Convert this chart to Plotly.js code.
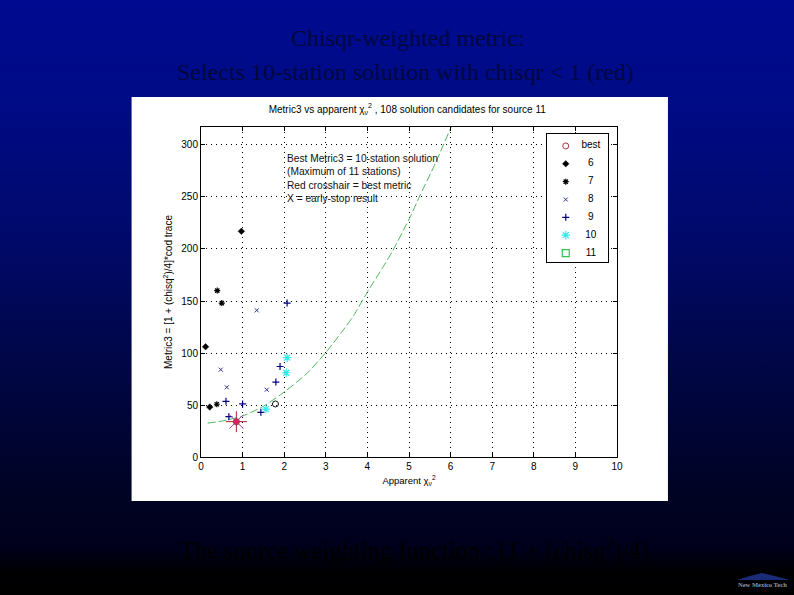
<!DOCTYPE html>
<html><head><meta charset="utf-8">
<script src="https://cdn.plot.ly/plotly-3.0.0.min.js"></script>
<style>
html,body{margin:0;padding:0;width:794px;height:595px;overflow:hidden;background:linear-gradient(180deg,#000a90 0%,#000b86 17%,#00096a 40%,#000644 62%,#000322 84%,#00001c 92%,#000003 96%,#000 100%);}
#chart{position:absolute;left:0;top:0;width:794px;height:595px;}
</style></head><body><div id="chart"></div>
<script>
var six_x=[0.97,0.11,0.21];
var six_y=[217,106,48];
var seven_x=[0.39,0.5,0.38];
var seven_y=[160,148,50.7];
var eight_x=[1.34,0.475,0.62,1.58];
var eight_y=[141,84,67,64.7];
var nine_x=[2.07,1.9,1.8,0.6,1.0,1.44,0.67];
var nine_y=[148,87,72,53.5,51,43,38.8];
var ten_x=[2.07,2.05,1.56,0.85];
var ten_y=[95.5,81,46,34];
var best_x=[0.85];
var best_y=[34];
var early_x=[1.79];
var early_y=[51];
var curve_x=[0.16,0.51,1.0,1.51,2.01,2.55,3.01,3.39,3.67,3.99,4.35,4.59,5.03,5.27,5.63,6.0,6.05];
var curve_y=[32.6,34.6,39.4,49,62.8,80.5,101,120.5,136,158,181,197,231,252,282,316,320];
var legend_names=["best","6","7","8","9","10","11"];
var legend_symbols=["circle-open","diamond","asterisk-open","x-thin-open","cross-thin-open","asterisk-open","square-open"];
var legend_sizes=[6,5,5,4,5,7,7];
var legend_colors=["#b03434","#000","#000","#30308c","#000080","#35eaea","#35c24a"];
var legend_widths=[1,0.5,1.2,1,1.2,1.2,1.2];
var title_text="Metric3 vs apparent χ<sub>ν</sub><sup>2</sup> , 108 solution candidates for source 11";
var xlabel="Apparent χ<sub>ν</sub><sup>2</sup>";
var ylabel="Metric3 = [1 + (chisq<sup>2</sup>)/4]*cod trace";
var note_lines=["Best Metric3 = 10-station solution","(Maximum of 11 stations)","Red crosshair = best metric","X = early-stop result"];
var slide_lines=["Chisqr-weighted metric:","Selects 10-station solution with chisqr &lt; 1 (red)"];
var foot_text="The source weighting function : [1 + (chisq<sup>2</sup>)/4]";
var logo_text="New Mexico Tech";

var L=200.5,R=617,T=127,B=457;
function px(v){return (v-L)/(R-L);}
function py(v){return (B-v)/(B-T);}
var sans="Liberation Sans, Arial, sans-serif", serif="Liberation Serif, Times New Roman, serif";
function pts(name,x,y,sym,size,color,lw){
  return {type:"scatter",mode:"markers",name:name,x:x,y:y,showlegend:false,hoverinfo:"skip",
    marker:{symbol:sym,size:size,color:color,line:{color:color,width:lw}}};
}
function series(i,x,y){return pts(legend_names[i],x,y,legend_symbols[i],legend_sizes[i],legend_colors[i],legend_widths[i]);}
var traces=[
 {type:"scatter",mode:"lines",x:curve_x,y:curve_y,showlegend:false,hoverinfo:"skip",line:{color:"#4cb85c",width:1,dash:"8px,3px",shape:"spline",smoothing:0.6}},
 series(1,six_x,six_y),series(2,seven_x,seven_y),series(3,eight_x,eight_y),series(4,nine_x,nine_y),series(5,ten_x,ten_y),
 pts("early stop",early_x,early_y,"circle-open",6,"#111",1),
 pts("crosshair",best_x,best_y,"cross-thin-open",15,"#b02030",1),
 pts("crosshair diag",best_x,best_y,"x-thin-open",14,"#c040c0",1),
 pts("best dot",best_x,best_y,"circle",6,"#e0206a",0),
 series(0,best_x,best_y)
];
// key drawn in an inset axes: one row per series
legend_names.forEach(function(n,i){
  var t=pts(n,[0.31],[n],legend_symbols[i],legend_sizes[i],legend_colors[i],legend_widths[i]);
  t.xaxis="x2";t.yaxis="y2";traces.push(t);
});
traces.push({type:"scatter",mode:"text",xaxis:"x2",yaxis:"y2",x:legend_names.map(function(){return 0.72;}),y:legend_names,text:legend_names,
  textposition:"middle center",textfont:{family:sans,size:10,color:"#000"},showlegend:false,hoverinfo:"skip"});

var ann=[];
function add(text,x,y,size,color,font,anchor){
  ann.push({text:text,xref:"paper",yref:"paper",x:px(x),y:py(y),xanchor:anchor||"center",yanchor:"middle",showarrow:false,
    font:{family:font,size:size,color:color},align:anchor||"center"});
}
add(slide_lines[0],407,38,24,"#00083e",serif);
add(slide_lines[1],405,72,24,"#00083e",serif);
add(foot_text,414,549,24.5,"#000000",serif);
add("<b>"+logo_text+"</b>",763,584,6.5,"#8e97ae",serif);
var noteY=[158,171.5,185,198];
note_lines.forEach(function(t,i){add(t,285,noteY[i],10.2,"#111",sans,"left");});
var layout={
 width:794,height:595,autosize:false,
 margin:{l:L,r:794-R,t:T,b:595-B,pad:0},
 paper_bgcolor:"rgba(0,0,0,0)",plot_bgcolor:"#fff",showlegend:false,
 font:{family:sans,size:10,color:"#000"},
 title:{text:title_text,xref:"paper",x:px(407),xanchor:"center",yref:"container",y:1-109/595,yanchor:"middle",font:{family:sans,size:10,color:"#000"}},
 xaxis:{range:[0,10],dtick:1,tick0:0,showline:true,linecolor:"#000",linewidth:1,mirror:"ticks",ticks:"inside",ticklen:4,tickcolor:"#000",
   showgrid:true,gridcolor:"#000",griddash:"1px,4px",gridwidth:1,zeroline:false,tickfont:{size:10,color:"#000"},
   title:{text:xlabel,standoff:6,font:{size:9.5,color:"#000"}}},
 yaxis:{range:[0,317.3],dtick:50,tick0:0,showline:true,linecolor:"#000",linewidth:1,mirror:"ticks",ticks:"inside",ticklen:4,tickcolor:"#000",
   showgrid:true,gridcolor:"#000",griddash:"1px,4px",gridwidth:1,zeroline:false,tickfont:{size:10,color:"#000"},
   title:{text:ylabel,standoff:6,font:{size:10,color:"#000"}}},
 xaxis2:{domain:[px(546.7),px(608)],anchor:"y2",range:[0,1],showgrid:false,zeroline:false,showticklabels:false,ticks:"",showline:true,mirror:true,linecolor:"#000",linewidth:1},
 yaxis2:{domain:[py(262),py(134)],anchor:"x2",type:"category",categoryorder:"array",categoryarray:legend_names,range:[6.5,-0.67],showgrid:false,zeroline:false,showticklabels:false,ticks:"",showline:true,mirror:true,linecolor:"#000",linewidth:1},
 shapes:[
  {type:"rect",xref:"paper",yref:"paper",x0:px(131),x1:px(668),y0:py(501),y1:py(97),fillcolor:"#fff",line:{width:0},layer:"below"},
  {type:"path",xref:"paper",yref:"paper",layer:"above",fillcolor:"#1a2c78",line:{width:0},
   path:"M "+px(737)+" "+py(580)+" L "+px(750)+" "+py(576)+" L "+px(762)+" "+py(573)+" L "+px(775)+" "+py(576)+" L "+px(790)+" "+py(580)+" Z"}
 ],
 annotations:ann
};
Plotly.newPlot("chart",traces,layout,{displayModeBar:false,staticPlot:true});
</script></body></html>
